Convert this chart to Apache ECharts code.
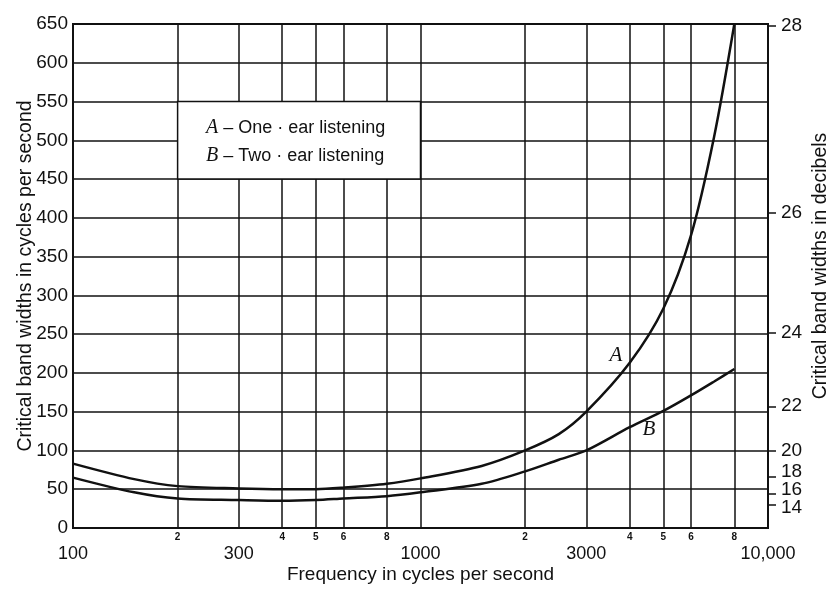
<!DOCTYPE html>
<html><head><meta charset="utf-8">
<script src="https://cdn.jsdelivr.net/npm/echarts@6/dist/echarts.min.js"></script>
<style>html,body{margin:0;padding:0;background:#fff}#c{width:834px;height:590px}</style>
</head><body><div id="c"></div>
<script>
// ---- data ----
const freq   = [100,150,200,300,400,500,600,800,1000,1500,2000,2500,3000,4000,5000,6000,7000,8000];
const curveA = [83, 63, 54, 51, 50, 50, 52, 57, 64,  80, 100, 121, 150, 213, 283, 377, 505, 650];
const curveB = [65, 46, 38, 36, 35, 36, 38, 41, 46,  57,  73,  88, 100, 130, 151, 171, 189, 205];

const xGridValues  = [100,200,300,400,500,600,800,1000,2000,3000,4000,5000,6000,8000,10000];
const xMajorTicks  = [100,300,1000,3000,10000];
const xMajorLabels = ['100','300','1000','3000','10,000'];
const xMinorTicks  = [200,400,500,600,800,2000,4000,5000,6000,8000];
const xMinorLabels = ['2','4','5','6','8','2','4','5','6','8'];

// right (decibel) scale: tick positions and where each label sits, on the cycles scale
const dbTickValues  = [30,44,66,100,157,252,407,648];
const dbLabelValues = [26,49,73,100,157,252,407,648];
const dbLabels      = ['14','16','18','20','22','24','26','28'];
// labels drawn on two overlaid right axes so that tightly packed ones are all kept
const dbSetOne = [26,73,100,157,252,407,648];
const dbSetTwo = [49];

const legendBox = [[200,550],[1000,450]];

function pick(ticks, labels){
  return function(v){
    const i = ticks.findIndex(t => Math.abs(t - v) / t < 1e-3);
    return i < 0 ? '' : labels[i];
  };
}

const INK = '#111';
const FONT = '"Liberation Sans", Arial, sans-serif';
const SERIF = '"Liberation Serif", "DejaVu Serif", serif';

const rightAxisBase = {
  type:'value', min:0, max:650, position:'right', splitLine:{show:false}
};

const chart = echarts.init(document.getElementById('c'), null, {renderer:'canvas'});
chart.setOption({
  animation:false,
  backgroundColor:'#fff',
  textStyle:{fontFamily:FONT, color:INK},
  grid:{left:73, right:66, top:24, bottom:62, show:true, borderColor:INK, borderWidth:2, backgroundColor:'transparent', containLabel:false, outerBoundsMode:'none'},
  xAxis:[{
    type:'log', logBase:10, min:100, max:10000, position:'bottom',
    axisLine:{show:true, lineStyle:{color:INK, width:2}},
    axisTick:{show:false, customValues:xGridValues},
    splitLine:{show:true, lineStyle:{color:INK, width:1.5}},
    axisLabel:{customValues:xMajorTicks, formatter:pick(xMajorTicks,xMajorLabels), fontSize:18, margin:17, color:INK, fontFamily:FONT, hideOverlap:false},
    name:'Frequency in cycles per second', nameLocation:'middle', nameGap:37, nameMoveOverlap:false,
    nameTextStyle:{fontSize:19, color:INK, fontFamily:FONT}
  },{
    type:'log', logBase:10, min:100, max:10000, position:'bottom',
    axisLine:{show:false}, axisTick:{show:false}, splitLine:{show:false},
    axisLabel:{customValues:xMinorTicks, formatter:pick(xMinorTicks,xMinorLabels), fontSize:10, fontWeight:'bold', margin:4, color:INK, fontFamily:FONT, hideOverlap:false}
  }],
  yAxis:[{
    type:'value', min:0, max:650, interval:50, position:'left',
    axisLine:{show:true, lineStyle:{color:INK, width:2}},
    axisTick:{show:false},
    splitLine:{show:true, lineStyle:{color:INK, width:1.5}},
    axisLabel:{fontSize:19, margin:5, color:INK, fontFamily:FONT},
    name:'Critical band widths in cycles per second', nameLocation:'middle', nameGap:37, nameMoveOverlap:false,
    nameTextStyle:{fontSize:19.5, color:INK, fontFamily:FONT}
  }, Object.assign({}, rightAxisBase, {
    axisLine:{show:true, lineStyle:{color:INK, width:2}},
    axisTick:{show:true, customValues:dbTickValues, length:8, inside:false, lineStyle:{color:INK, width:1.5}},
    axisLabel:{customValues:dbSetOne, formatter:pick(dbLabelValues,dbLabels), fontSize:19, margin:13, color:INK, fontFamily:FONT, hideOverlap:false}
  }), Object.assign({}, rightAxisBase, {
    axisLine:{show:false}, axisTick:{show:false},
    axisLabel:{customValues:dbSetTwo, formatter:pick(dbLabelValues,dbLabels), fontSize:19, margin:13, color:INK, fontFamily:FONT, hideOverlap:false}
  })],
  series:[{
    name:'A', type:'line', xAxisIndex:0, yAxisIndex:0, z:4,
    data:freq.map((f,i)=>[f,curveA[i]]),
    showSymbol:false, smooth:0.3, lineStyle:{color:INK, width:2.5},
    markArea:{silent:true, z:3,
      itemStyle:{color:'#fff', borderColor:INK, borderWidth:1.5},
      data:[[{coord:legendBox[0]},{coord:legendBox[1]}]]}
  },{
    name:'B', type:'line', xAxisIndex:0, yAxisIndex:0, z:4,
    data:freq.map((f,i)=>[f,curveB[i]]),
    showSymbol:false, smooth:0.3, lineStyle:{color:INK, width:2.5}
  }],
  graphic:{elements:[
    {type:'text', z:100, left:206, top:118, style:{
      rich:{i:{fontFamily:SERIF, fontStyle:'italic', fontSize:20, fill:INK}, t:{fontFamily:FONT, fontSize:18, fill:INK}},
      text:'{i|A}{t| – One · ear listening}'}},
    {type:'text', z:100, left:206, top:146, style:{
      rich:{i:{fontFamily:SERIF, fontStyle:'italic', fontSize:20, fill:INK}, t:{fontFamily:FONT, fontSize:18, fill:INK}},
      text:'{i|B}{t| – Two · ear listening}'}},
    {type:'text', z:100, x:616, y:355, style:{text:'A', fontFamily:SERIF, fontStyle:'italic', fontSize:21, fill:INK, align:'center', verticalAlign:'middle'}},
    {type:'text', z:100, x:649, y:429, style:{text:'B', fontFamily:SERIF, fontStyle:'italic', fontSize:21, fill:INK, align:'center', verticalAlign:'middle'}},
    {type:'text', z:100, x:821, y:266, rotation:Math.PI/2, style:{text:'Critical band widths in decibels', fontFamily:FONT, fontSize:19.5, fill:INK, align:'center', verticalAlign:'middle'}}
  ]}
});
</script></body></html>
